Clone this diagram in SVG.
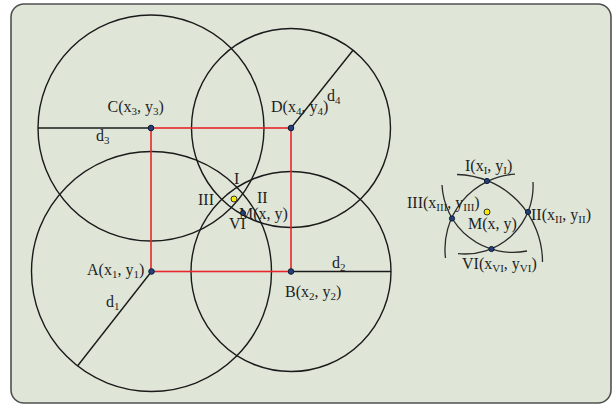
<svg xmlns="http://www.w3.org/2000/svg" width="616" height="405" viewBox="0 0 616 405">
<style>
text{font-family:"Liberation Serif","Times New Roman",serif;font-size:16px;fill:#1e1e1e}
.s{font-size:11px}
.c{fill:none;stroke:#1a1a1a;stroke-width:1.4}
.r{fill:none;stroke:#e8262a;stroke-width:1.6}
.p{fill:#24407a;stroke:#0d1a33;stroke-width:1}
.y{fill:#f5ea00;stroke:#333;stroke-width:1}
.a{fill:none;stroke:#2a2a2a;stroke-width:1.3}
</style>
<rect x="11" y="4" width="600" height="399" rx="13" fill="#dfe6d8" stroke="#505050" stroke-width="1.6"/>
<g id="connectors">
<circle class="c" cx="151" cy="128" r="113"/>
<circle class="c" cx="291" cy="128" r="99.5"/>
<circle class="c" cx="151.5" cy="271.5" r="120"/>
<circle class="c" cx="291" cy="271.5" r="100"/>
<line class="c" x1="38" y1="128" x2="151" y2="128"/>
<line class="c" x1="291" y1="128" x2="353" y2="50.3"/>
<line class="c" x1="151.5" y1="271.5" x2="77.5" y2="366"/>
<line class="c" x1="291" y1="271.5" x2="391" y2="271.5"/>
<rect class="r" x="151" y="128" width="140" height="143.5"/>
<path class="a" d="M457,174.5 A87.5,87.5 0 0 1 542.5,262"/>
<path class="a" d="M515,174.2 A75,75 0 0 0 445.5,258"/>
<path class="a" d="M458,253.6 A68,68 0 0 0 533,182"/>
<path class="a" d="M527,251 A70.8,70.8 0 0 1 442,185"/>
</g>
<g id="C"><circle class="p" cx="151" cy="128" r="2.8"/><text x="107.5" y="112">C(x<tspan class="s" dy="3">3</tspan><tspan dy="-3">, y</tspan><tspan class="s" dy="3">3</tspan><tspan dy="-3">)</tspan></text></g>
<g id="D"><circle class="p" cx="291" cy="128" r="2.8"/><text x="271" y="112">D(x<tspan class="s" dy="3">4</tspan><tspan dy="-3">, y</tspan><tspan class="s" dy="3">4</tspan><tspan dy="-3">)</tspan></text></g>
<g id="A"><circle class="p" cx="151.5" cy="271.5" r="2.8"/><text x="87" y="275">A(x<tspan class="s" dy="3">1</tspan><tspan dy="-3">, y</tspan><tspan class="s" dy="3">1</tspan><tspan dy="-3">)</tspan></text></g>
<g id="B"><circle class="p" cx="291" cy="271.5" r="2.8"/><text x="285" y="297">B(x<tspan class="s" dy="3">2</tspan><tspan dy="-3">, y</tspan><tspan class="s" dy="3">2</tspan><tspan dy="-3">)</tspan></text></g>
<g id="dlabels">
<text x="327" y="101">d<tspan class="s" dy="3">4</tspan></text>
<text x="96" y="141">d<tspan class="s" dy="3">3</tspan></text>
<text x="106" y="307">d<tspan class="s" dy="3">1</tspan></text>
<text x="332" y="268">d<tspan class="s" dy="3">2</tspan></text>
</g>
<g id="center-left">
<text x="234" y="184">I</text>
<text x="198" y="205">III</text>
<text x="257" y="203">II</text>
<text x="229" y="229">VI</text>
<circle class="y" cx="234" cy="199" r="3"/>
<text x="239" y="219">M(x, y)</text>
<circle class="p" cx="243" cy="213" r="2.5"/>
</g>
<g id="detail">
<circle class="p" cx="487" cy="181" r="2.6"/>
<circle class="p" cx="528" cy="212" r="2.6"/>
<circle class="p" cx="452" cy="218.5" r="2.6"/>
<circle class="p" cx="491.5" cy="249" r="2.6"/>
<circle class="y" cx="487" cy="212" r="3"/>
<text x="465" y="171">I(x<tspan class="s" dy="3">I</tspan><tspan dy="-3">, y</tspan><tspan class="s" dy="3">I</tspan><tspan dy="-3">)</tspan></text>
<text x="407" y="208">III(x<tspan class="s" dy="3">III</tspan><tspan dy="-3">, y</tspan><tspan class="s" dy="3">III</tspan><tspan dy="-3">)</tspan></text>
<text x="468" y="229">M(x, y)</text>
<text x="531" y="220">II(x<tspan class="s" dy="3">II</tspan><tspan dy="-3">, y</tspan><tspan class="s" dy="3">II</tspan><tspan dy="-3">)</tspan></text>
<text x="462" y="269">VI(x<tspan class="s" dy="3">VI</tspan><tspan dy="-3">, y</tspan><tspan class="s" dy="3">VI</tspan><tspan dy="-3">)</tspan></text>
</g>
</svg>
